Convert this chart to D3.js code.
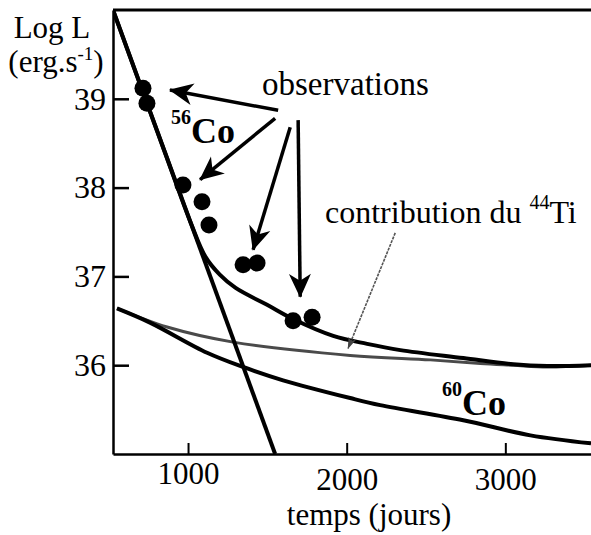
<!DOCTYPE html>
<html>
<head>
<meta charset="utf-8">
<script src="https://cdn.jsdelivr.net/npm/d3@7"></script>
<style>
  html, body { margin: 0; padding: 0; background: #fff; }
  svg { display: block; }
  text { font-family: "Liberation Serif", "Times New Roman", serif; fill: #000; }
</style>
</head>
<body>
<svg id="chart" width="591" height="535"></svg>
<script>
// ---- data ----
const xTickValues = [1000, 2000, 3000];
const yTickValues = [36, 37, 38, 39];

// observations
const obsT = [716, 741, 968, 1088, 1132, 1347, 1435, 1662, 1782];
const obsL = [39.12, 38.95, 38.03, 37.84, 37.58, 37.13, 37.15, 36.50, 36.54];

// 56Co decay (straight line)
const co56T = [527, 1549];
const co56L = [40.0, 35.0];

// total model curve
const totalT = [527, 849, 1020, 1110, 1200, 1300, 1498, 1662, 1915, 2129, 2338, 2735, 3050, 3265, 3540];
const totalL = [40.0, 38.42, 37.59, 37.22, 37.02, 36.87, 36.68, 36.52, 36.33, 36.24, 36.17, 36.08, 36.01, 35.99, 36.00];

// 44Ti contribution
const tiT = [552, 868, 1284, 2022, 2527, 2842, 3050, 3265, 3540];
const tiL = [36.64, 36.43, 36.26, 36.11, 36.06, 36.02, 36.00, 35.98, 36.00];

// 60Co contribution
const co60T = [552, 760, 1120, 1347, 1599, 2022, 2211, 2735, 3158, 3540];
const co60L = [36.64, 36.48, 36.14, 35.98, 35.83, 35.63, 35.55, 35.38, 35.21, 35.12];

// annotation arrows: [t0, L0, t1, L1]
const obsArrows = [
  [1568, 38.87, 886, 39.10],
  [1549, 38.78, 1076, 38.09],
  [1644, 38.68, 1410, 37.30],
  [1694, 38.76, 1707, 36.77]
];
const tiArrow = [2306, 37.49, 2009, 36.19];

// ---- layout ----
const svg = d3.select("#chart");
const padL = 113, padR = 591, padT = 10, padB = 454;

const x = d3.scaleLinear().domain([527, 3540]).range([padL, padR]);
const y = d3.scaleLinear().domain([35, 40]).range([padB, padT]);

const defs = svg.append("defs");
defs.append("clipPath").attr("id", "plotclip")
  .append("rect").attr("x", padL).attr("y", padT).attr("width", padR - padL).attr("height", padB - padT);

defs.append("marker").attr("id", "arrowBig")
  .attr("markerUnits", "userSpaceOnUse")
  .attr("viewBox", "-24 -12 26 24").attr("refX", 0).attr("refY", 0)
  .attr("markerWidth", 26).attr("markerHeight", 24).attr("orient", "auto")
  .append("path").attr("d", "M1,0 L-23,-11 L-16,0 L-23,11 Z").attr("fill", "#000");
defs.append("marker").attr("id", "arrowSmall")
  .attr("markerUnits", "userSpaceOnUse")
  .attr("viewBox", "-12 -6 13 12").attr("refX", 0).attr("refY", 0)
  .attr("markerWidth", 13).attr("markerHeight", 12).attr("orient", "auto")
  .append("path").attr("d", "M1,0 L-11,-4 L-8,0 L-11,4 Z").attr("fill", "#444");

// axes
const yAxis = d3.axisLeft(y).tickValues(yTickValues).tickFormat(d3.format("d"))
  .tickSizeInner(-16).tickSizeOuter(0).tickPadding(7);
const gy = svg.append("g").attr("transform", `translate(${padL},0)`).call(yAxis);
gy.select(".domain").attr("stroke", "#000").attr("stroke-width", 2.5);
gy.selectAll(".tick line").attr("stroke", "#000").attr("stroke-width", 2.5);
gy.selectAll(".tick text").attr("font-size", 32).attr("font-family", "Liberation Serif").attr("fill", "#000");

const xAxis = d3.axisBottom(x).tickValues(xTickValues).tickFormat(d3.format("d"))
  .tickSizeInner(-11).tickSizeOuter(0).tickPadding(0);
const gx = svg.append("g").attr("transform", `translate(0,${padB})`).call(xAxis);
gx.select(".domain").attr("stroke", "#000").attr("stroke-width", 2.5);
gx.selectAll(".tick line").attr("stroke", "#000").attr("stroke-width", 2);
const xLabelDrop = [30, 36, 36];
gx.selectAll(".tick text").attr("font-size", 31).attr("font-family", "Liberation Serif").attr("fill", "#000")
  .attr("dy", null).attr("y", (d, i) => xLabelDrop[i]);

// top frame line
svg.append("line").attr("x1", padL).attr("x2", padR).attr("y1", padT).attr("y2", padT)
  .attr("stroke", "#000").attr("stroke-width", 3);

// axis titles
svg.append("text").attr("x", 52).attr("y", 38).attr("text-anchor", "middle")
  .attr("font-size", 31).text("Log L");
const unit = svg.append("text").attr("x", 56).attr("y", 72).attr("text-anchor", "middle").attr("font-size", 31);
unit.append("tspan").text("(erg.s");
unit.append("tspan").attr("font-size", 19).attr("dy", -12).text("-1");
unit.append("tspan").attr("dy", 12).text(")");

svg.append("text").attr("x", 369).attr("y", 525).attr("text-anchor", "middle")
  .attr("font-size", 31).text("temps (jours)");

// curves
const plot = svg.append("g").attr("clip-path", "url(#plotclip)");
const line = d3.line().x(d => x(d[0])).y(d => y(d[1])).curve(d3.curveCatmullRom.alpha(0.5));
const zip = (a, b) => a.map((v, i) => [v, b[i]]);

plot.append("path").datum(zip(tiT, tiL)).attr("d", line)
  .attr("fill", "none").attr("stroke", "#4a4a4a").attr("stroke-width", 3);
plot.append("path").datum(zip(co60T, co60L)).attr("d", line)
  .attr("fill", "none").attr("stroke", "#000").attr("stroke-width", 4);
plot.append("path").datum(zip(co56T, co56L)).attr("d", d3.line().x(d => x(d[0])).y(d => y(d[1])))
  .attr("fill", "none").attr("stroke", "#000").attr("stroke-width", 4);
plot.append("path").datum(zip(totalT, totalL)).attr("d", line)
  .attr("fill", "none").attr("stroke", "#000").attr("stroke-width", 4);

// observations
plot.selectAll("circle.obs").data(zip(obsT, obsL)).join("circle")
  .attr("class", "obs").attr("cx", d => x(d[0])).attr("cy", d => y(d[1])).attr("r", 8.5).attr("fill", "#000");

// arrows
svg.selectAll("line.obsArrow").data(obsArrows).join("line").attr("class", "obsArrow")
  .attr("x1", d => x(d[0])).attr("y1", d => y(d[1])).attr("x2", d => x(d[2])).attr("y2", d => y(d[3]))
  .attr("stroke", "#000").attr("stroke-width", 3.5).attr("marker-end", "url(#arrowBig)");
svg.append("line").attr("x1", x(tiArrow[0])).attr("y1", y(tiArrow[1])).attr("x2", x(tiArrow[2])).attr("y2", y(tiArrow[3]))
  .attr("stroke", "#555").attr("stroke-width", 1.6).attr("stroke-dasharray", "3,1").attr("marker-end", "url(#arrowSmall)");

// labels
svg.append("text").attr("x", 262).attr("y", 95).attr("font-size", 33).text("observations");

const c56 = svg.append("text").attr("x", 171).attr("y", 143).attr("font-weight", "bold");
c56.append("tspan").attr("font-size", 20).attr("dy", -19).text("56");
c56.append("tspan").attr("font-size", 36).attr("dy", 19).text("Co");

const c60 = svg.append("text").attr("x", 442).attr("y", 415).attr("font-weight", "bold");
c60.append("tspan").attr("font-size", 20).attr("dy", -19).text("60");
c60.append("tspan").attr("font-size", 36).attr("dy", 19).text("Co");

const ti = svg.append("text").attr("x", 325).attr("y", 223).attr("font-size", 32);
ti.append("tspan").text("contribution du ");
ti.append("tspan").attr("font-size", 20).attr("dy", -14).text("44");
ti.append("tspan").attr("dy", 14).text("Ti");
</script>
</body>
</html>
